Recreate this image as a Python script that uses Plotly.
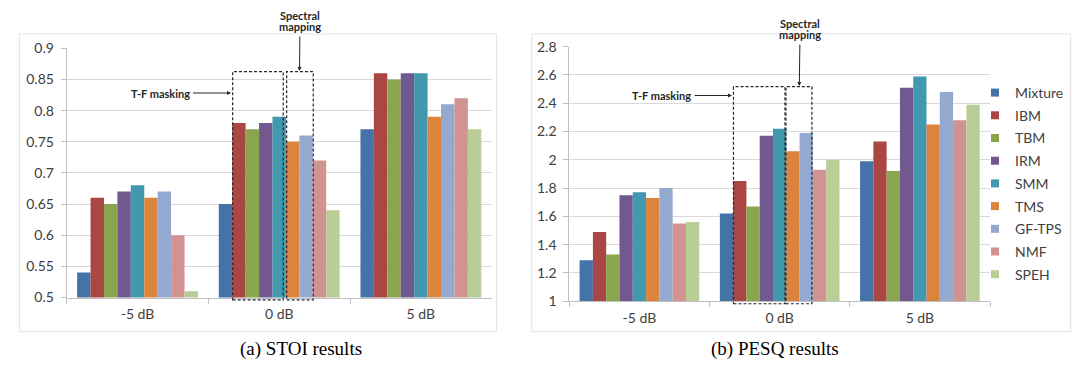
import plotly.graph_objects as go

W, H = 1080, 370

# ---------------- data ----------------
categories = ["-5 dB", "0 dB", "5 dB"]
methods = ["Mixture", "IBM", "TBM", "IRM", "SMM", "TMS", "GF-TPS", "NMF", "SPEH"]
colors = ["#4572A7", "#AA4643", "#89A54E", "#71588F", "#4198AF",
          "#DB843D", "#93A9CF", "#D19392", "#B9CD96"]

# STOI values per SNR (one value per method, order as `methods`)
stoi_m5dB = [0.54, 0.66, 0.65, 0.67, 0.68, 0.66, 0.67, 0.60, 0.51]
stoi_0dB = [0.65, 0.78, 0.77, 0.78, 0.79, 0.75, 0.76, 0.72, 0.64]
stoi_5dB = [0.77, 0.86, 0.85, 0.86, 0.86, 0.79, 0.81, 0.82, 0.77]

# PESQ values per SNR
pesq_m5dB = [1.29, 1.49, 1.33, 1.75, 1.77, 1.73, 1.80, 1.55, 1.56]
pesq_0dB = [1.62, 1.85, 1.67, 2.17, 2.22, 2.06, 2.19, 1.93, 2.00]
pesq_5dB = [1.99, 2.13, 1.92, 2.51, 2.59, 2.25, 2.48, 2.28, 2.39]

stoi_range = [0.5, 0.9]
pesq_range = [1.0, 2.8]

# ---------------- helpers ----------------
def px_x(p):
    return p / W

def px_y(p):
    return 1 - p / H

def dom(v, rng):
    return (v - rng[0]) / (rng[1] - rng[0])

TICK_FONT = dict(family="Lato, Calibri, sans-serif", size=14, color="#404040")
NOTE_FONT = dict(family="Lato, Calibri, sans-serif", size=11, color="#262626", weight="bold")
CAP_FONT = dict(family="Liberation Serif, Times New Roman, serif", size=19, color="#000000")
GRID = "#D9D9D9"
AXLINE = "#BFBFBF"

fig = go.Figure()

stoi_series = [[stoi_m5dB[i], stoi_0dB[i], stoi_5dB[i]] for i in range(len(methods))]
pesq_series = [[pesq_m5dB[i], pesq_0dB[i], pesq_5dB[i]] for i in range(len(methods))]

for i, m in enumerate(methods):
    fig.add_trace(go.Bar(x=categories, y=stoi_series[i], name=m, marker_color=colors[i],
                         marker_line_width=0, showlegend=False, xaxis="x", yaxis="y"))
for i, m in enumerate(methods):
    fig.add_trace(go.Bar(x=categories, y=pesq_series[i], name=m, marker_color=colors[i],
                         marker_line_width=0, showlegend=False, xaxis="x2", yaxis="y2"))
# legend entries (small square swatches)
for i, m in enumerate(methods):
    fig.add_trace(go.Scatter(x=[None], y=[None], mode="markers", name=m,
                             marker=dict(symbol="square", size=8, color=colors[i]),
                             legendgroup=m, showlegend=True, xaxis="x2", yaxis="y2"))

xcommon = dict(type="category", range=[-0.5, 2.5], showline=True, linecolor=AXLINE,
               ticks="outside", tickson="boundaries", ticklen=5, tickcolor=AXLINE,
               showgrid=False, tickfont=TICK_FONT, ticklabelstandoff=4, fixedrange=True,
               automargin=False)
ycommon = dict(showline=True, linecolor=AXLINE, ticks="outside", ticklen=5,
               tickcolor=AXLINE, showgrid=True, gridcolor=GRID, gridwidth=1,
               zeroline=False, tickfont=TICK_FONT, ticklabelstandoff=4, fixedrange=True,
               automargin=False)

fig.update_layout(
    width=W, height=H,
    margin=dict(l=0, r=0, t=0, b=0, pad=0, autoexpand=False),
    paper_bgcolor="white", plot_bgcolor="white",
    barmode="group", bargap=0.147, bargroupgap=0,
    xaxis=dict(domain=[px_x(66.7), px_x(491.7)], anchor="y", **xcommon),
    yaxis=dict(domain=[px_y(297.5), px_y(48.3)], anchor="x", range=stoi_range,
               dtick=0.05, tick0=0.5, **ycommon),
    xaxis2=dict(domain=[px_x(569.3), px_x(990)], anchor="y2", **xcommon),
    yaxis2=dict(domain=[px_y(301.2), px_y(46.7)], anchor="x2", range=pesq_range,
                dtick=0.2, tick0=1.0, **ycommon),
    legend=dict(x=px_x(975), y=px_y(77), xanchor="left", yanchor="top",
                font=dict(family="Lato, Calibri, sans-serif", size=14, color="#404040"),
                bgcolor="rgba(0,0,0,0)", tracegroupgap=1.5, itemclick=False,
                itemdoubleclick=False),
    showlegend=True,
)

shapes = []
# outer chart frames
shapes.append(dict(type="rect", xref="paper", yref="paper",
                   x0=px_x(19.3), x1=px_x(496.7), y0=px_y(331.7), y1=px_y(34),
                   line=dict(color="#E2E2E2", width=1), layer="below"))
shapes.append(dict(type="rect", xref="paper", yref="paper",
                   x0=px_x(531.7), x1=px_x(1070.7), y0=px_y(331.7), y1=px_y(34),
                   line=dict(color="#E2E2E2", width=1), layer="below"))

# dashed grouping boxes (x in category units, y in value units)
box_style = dict(color="#262626", width=1.2, dash="3px,2px")
stoi_boxes = [(0.6715, 1.0286), (1.0526, 1.2403)]
stoi_box_y = (0.4963, 0.8625)
pesq_boxes = [(0.6706, 1.038), (1.0451, 1.23)]
pesq_box_y = (0.982, 2.517)
for x0, x1 in stoi_boxes:
    shapes.append(dict(type="rect", xref="x", yref="y domain", x0=x0, x1=x1,
                       y0=dom(stoi_box_y[0], stoi_range), y1=dom(stoi_box_y[1], stoi_range),
                       line=box_style, layer="above"))
for x0, x1 in pesq_boxes:
    shapes.append(dict(type="rect", xref="x2", yref="y2 domain", x0=x0, x1=x1,
                       y0=dom(pesq_box_y[0], pesq_range), y1=dom(pesq_box_y[1], pesq_range),
                       line=box_style, layer="above"))
fig.update_layout(shapes=shapes)

arrow = dict(showarrow=True, arrowhead=2, arrowsize=0.8, arrowwidth=1,
             arrowcolor="#262626", standoff=0, startstandoff=2)
annotations = [
    # left chart
    dict(xref="paper", yref="paper", x=px_x(231), y=px_y(93), ax=-71, ay=0,
         text="T-F masking", font=NOTE_FONT, **arrow),
    dict(xref="paper", yref="paper", x=px_x(300), y=px_y(15), showarrow=False,
         text="Spectral", font=NOTE_FONT, xanchor="center", yanchor="middle"),
    dict(xref="paper", yref="paper", x=px_x(299.5), y=px_y(71), ax=0.5, ay=-44.5,
         text="mapping", font=NOTE_FONT, **arrow),
    # right chart
    dict(xref="paper", yref="paper", x=px_x(732), y=px_y(95.5), ax=-70.3, ay=0,
         text="T-F masking", font=NOTE_FONT, **arrow),
    dict(xref="paper", yref="paper", x=px_x(800), y=px_y(23), showarrow=False,
         text="Spectral", font=NOTE_FONT, xanchor="center", yanchor="middle"),
    dict(xref="paper", yref="paper", x=px_x(799.3), y=px_y(86), ax=0.7, ay=-51.5,
         text="mapping", font=NOTE_FONT, **arrow),
    # captions
    dict(xref="paper", yref="paper", x=px_x(300.5), y=px_y(349), showarrow=False,
         text="(a) STOI results", font=CAP_FONT, xanchor="center", yanchor="middle"),
    dict(xref="paper", yref="paper", x=px_x(775), y=px_y(349), showarrow=False,
         text="(b) PESQ results", font=CAP_FONT, xanchor="center", yanchor="middle"),
]
fig.update_layout(annotations=annotations)

# remove the browser's default 8px page margin so the figure sits at the window origin
fig.write_html("out.html", config={"displayModeBar": False},
               post_script="document.body.style.margin='0';document.body.style.overflow='hidden';")
